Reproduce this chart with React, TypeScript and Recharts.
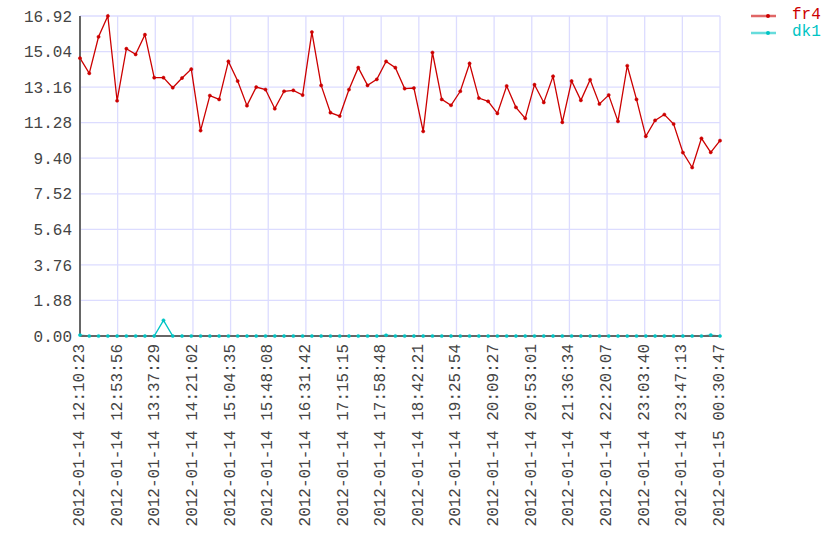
import { CartesianGrid, Line, LineChart, XAxis, YAxis } from "recharts";

const TICK_LABELS = [
  "2012-01-14 12:10:23",
  "2012-01-14 12:53:56",
  "2012-01-14 13:37:29",
  "2012-01-14 14:21:02",
  "2012-01-14 15:04:35",
  "2012-01-14 15:48:08",
  "2012-01-14 16:31:42",
  "2012-01-14 17:15:15",
  "2012-01-14 17:58:48",
  "2012-01-14 18:42:21",
  "2012-01-14 19:25:54",
  "2012-01-14 20:09:27",
  "2012-01-14 20:53:01",
  "2012-01-14 21:36:34",
  "2012-01-14 22:20:07",
  "2012-01-14 23:03:40",
  "2012-01-14 23:47:13",
  "2012-01-15 00:30:47",
];

const Y_TICKS = [0, 1.88, 3.76, 5.64, 7.52, 9.4, 11.28, 13.16, 15.04, 16.92];

const FR4 = [
  14.69, 13.89, 15.82, 16.92, 12.44, 15.19, 14.89, 15.93, 13.66, 13.66,
  13.13, 13.64, 14.11, 10.86, 12.71, 12.51, 14.52, 13.48, 12.18, 13.16,
  13.03, 12.02, 12.94, 12.99, 12.74, 16.07, 13.25, 11.81, 11.63, 13.03,
  14.19, 13.25, 13.57, 14.52, 14.19, 13.08, 13.11, 10.82, 14.99, 12.51,
  12.2, 12.94, 14.41, 12.58, 12.41, 11.77, 13.22, 12.09, 11.51, 13.29,
  12.35, 13.73, 11.3, 13.48, 12.46, 13.55, 12.27, 12.74, 11.35, 14.29,
  12.51, 10.56, 11.4, 11.71, 11.21, 9.7, 8.91, 10.45, 9.71, 10.33,
];

const DK1 = [
  0.05, 0, 0, 0, 0, 0, 0, 0, 0, 0.83,
  0, 0, 0, 0, 0, 0, 0, 0, 0, 0,
  0, 0, 0, 0, 0, 0, 0, 0, 0, 0,
  0, 0, 0, 0.04, 0, 0, 0, 0, 0, 0,
  0, 0, 0, 0, 0, 0, 0, 0, 0, 0,
  0, 0, 0, 0, 0, 0, 0, 0, 0, 0,
  0, 0, 0, 0, 0, 0, 0, 0, 0.05, 0,
];

const FONT = "'Liberation Mono', 'DejaVu Sans Mono', monospace";
const RED = "#cc0000";
const CYAN = "#00c4c4";
const TEXT = "#444";

const data = FR4.map((v, i) => ({ idx: i, fr4: v, dk1: DK1[i] }));
const lastIdx = FR4.length - 1;
const xTicks = TICK_LABELS.map((_, k) => (k * lastIdx) / (TICK_LABELS.length - 1));

function TimeTick(props: any) {
  const { x, y, index } = props;
  return (
    <g transform={`translate(${x},${y})`}>
      <text
        transform="rotate(-90)"
        textAnchor="end"
        dominantBaseline="central"
        fill={TEXT}
        fontSize={16}
        fontFamily={FONT}
      >
        {TICK_LABELS[index]}
      </text>
    </g>
  );
}

function LegendBox() {
  const items = [
    { name: "fr4", color: RED },
    { name: "dk1", color: CYAN },
  ];
  return (
    <div style={{ position: "absolute", left: 751, top: 7 }}>
      {items.map((it) => (
        <div key={it.name} style={{ display: "flex", alignItems: "center", height: 17 }}>
          <svg width={41} height={10}>
            <line x1={0} y1={5} x2={25} y2={5} stroke={it.color} strokeOpacity={0.6} strokeWidth={2.5} />
            <circle cx={17} cy={5} r={2} fill={it.color} />
          </svg>
          <span style={{ color: it.color, fontFamily: FONT, fontSize: 16, lineHeight: "17px" }}>{it.name}</span>
        </div>
      ))}
    </div>
  );
}

export default function App() {
  return (
    <div style={{ position: "absolute", left: 0, top: 0, width: 840, height: 560 }}>
      <LineChart width={840} height={560} data={data} margin={{ top: 16, right: 120, bottom: 0, left: 0 }}>
        <CartesianGrid stroke="#dcdcff" strokeWidth={1.3} />
        <XAxis
          dataKey="idx"
          type="number"
          domain={[0, lastIdx]}
          ticks={xTicks}
          interval={0}
          height={224}
          tick={<TimeTick />}
          tickLine={false}
          axisLine={{ stroke: "#666", strokeWidth: 2 }}
        />
        <YAxis
          type="number"
          domain={[0, 16.92]}
          ticks={Y_TICKS}
          interval={0}
          width={80}
          tickFormatter={(v: number) => v.toFixed(2)}
          tick={{ fill: TEXT, fontSize: 16, fontFamily: FONT }}
          tickLine={false}
          axisLine={{ stroke: "#666", strokeWidth: 2 }}
        />
        <Line
          dataKey="fr4"
          stroke={RED}
          strokeWidth={1.3}
          dot={{ r: 1.6, fill: RED, stroke: RED, strokeWidth: 0.5 }}
          isAnimationActive={false}
        />
        <Line
          dataKey="dk1"
          stroke={CYAN}
          strokeWidth={1.3}
          dot={{ r: 1.6, fill: CYAN, stroke: CYAN, strokeWidth: 0.5 }}
          isAnimationActive={false}
        />
      </LineChart>
      <LegendBox />
    </div>
  );
}
